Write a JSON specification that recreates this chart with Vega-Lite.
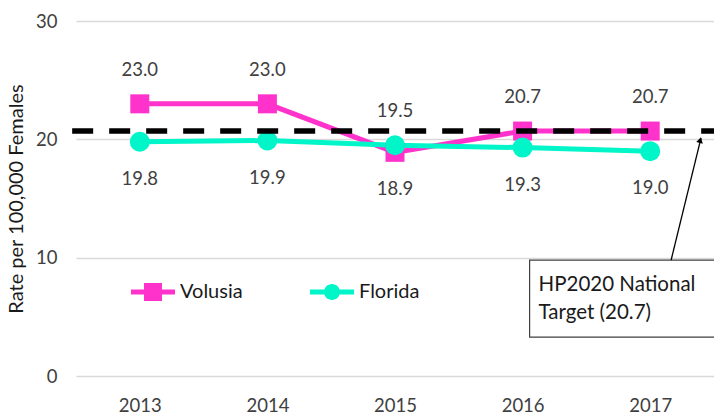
{
  "$schema": "https://vega.github.io/schema/vega-lite/v6.json",
  "autosize": {"type": "none"},
  "padding": {"left": 76, "top": 21, "right": 0, "bottom": 39},
  "width": 638,
  "height": 355,
  "background": "white",
  "config": {
    "view": {"stroke": null},
    "font": "Lato",
    "axis": {"labelFont": "Lato", "titleFont": "Lato"}
  },
  "data": {
    "values": [
      {"year": 2013, "series": "Volusia", "rate": 23.0},
      {"year": 2014, "series": "Volusia", "rate": 23.0},
      {"year": 2015, "series": "Volusia", "rate": 18.9},
      {"year": 2016, "series": "Volusia", "rate": 20.7},
      {"year": 2017, "series": "Volusia", "rate": 20.7},
      {"year": 2013, "series": "Florida", "rate": 19.8},
      {"year": 2014, "series": "Florida", "rate": 19.9},
      {"year": 2015, "series": "Florida", "rate": 19.5},
      {"year": 2016, "series": "Florida", "rate": 19.3},
      {"year": 2017, "series": "Florida", "rate": 19.0}
    ]
  },
  "encoding": {
    "x": {
      "field": "year", "type": "quantitative",
      "scale": {"domain": [2012.5, 2017.5], "nice": false, "zero": false},
      "axis": {"values": [2013, 2014, 2015, 2016, 2017], "format": "d", "title": null, "grid": false, "domain": false, "ticks": false, "labelFontSize": 18.5, "labelColor": "#404040", "labelPadding": 20, "labelFlush": false}
    },
    "y": {
      "field": "rate", "type": "quantitative",
      "scale": {"domain": [0, 30], "nice": false},
      "axis": {"values": [0, 10, 20, 30], "title": "Rate per 100,000 Females", "titleFontSize": 20, "titleFontWeight": "normal", "titleColor": "#1a1a1a", "titlePadding": 9, "grid": true, "gridColor": "#d9d9d9", "gridWidth": 1.5, "domain": false, "ticks": false, "labelFontSize": 18.5, "labelColor": "#404040", "labelPadding": 19}
    }
  },
  "layer": [
    {
      "mark": {"type": "line", "strokeWidth": 5},
      "encoding": {
        "color": {
          "field": "series", "type": "nominal",
          "scale": {"domain": ["Volusia", "Florida"], "range": ["#FF33CC", "#00F5C8"]},
          "legend": {
            "orient": "none", "legendX": 67, "legendY": 261, "direction": "horizontal",
            "title": null, "symbolSize": 400, "labelOffset": 17, "columnPadding": 67,
            "padding": 0, "labelFontSize": 20, "labelFont": "Lato", "labelColor": "#1a1a1a",
            "symbolStrokeWidth": 0, "symbolOpacity": 1,
            "encode": {
              "symbols": {
                "update": {
                  "shape": {"signal": "datum.value == 'Volusia' ? 'M-2.2,-0.25L2.2,-0.25L2.2,0.25L-2.2,0.25ZM-0.9,-0.9L0.9,-0.9L0.9,0.9L-0.9,0.9Z' : 'M-2.2,-0.25L2.2,-0.25L2.2,0.25L-2.2,0.25ZM-0.8,0A0.8,0.8 0 1,1 0.8,0A0.8,0.8 0 1,1 -0.8,0Z'"},
                  "fill": {"scale": "color", "field": "value"},
                  "strokeWidth": {"value": 0},
                  "opacity": {"value": 1}
                }
              }
            }
          }
        }
      }
    },
    {
      "transform": [{"filter": "datum.series == 'Volusia'"}],
      "mark": {"type": "point", "filled": true, "opacity": 1, "shape": "square", "size": 361},
      "encoding": {"color": {"field": "series", "type": "nominal"}}
    },
    {
      "transform": [{"filter": "datum.series == 'Florida'"}],
      "mark": {"type": "point", "filled": true, "opacity": 1, "shape": "circle", "size": 400},
      "encoding": {"color": {"field": "series", "type": "nominal"}}
    },
    {
      "transform": [{"filter": "(datum.series == 'Volusia' && datum.year != 2015) || (datum.series == 'Florida' && datum.year == 2015)"}],
      "mark": {"type": "text", "dy": -34, "fontSize": 18.5, "fontWeight": "normal", "fill": "#404040", "baseline": "middle"},
      "encoding": {"text": {"field": "rate", "type": "quantitative", "format": ".1f"}}
    },
    {
      "transform": [{"filter": "!((datum.series == 'Volusia' && datum.year != 2015) || (datum.series == 'Florida' && datum.year == 2015))"}],
      "mark": {"type": "text", "dy": 37, "fontSize": 18.5, "fontWeight": "normal", "fill": "#404040", "baseline": "middle"},
      "encoding": {"text": {"field": "rate", "type": "quantitative", "format": ".1f"}}
    },
    {
      "transform": [{"filter": "datum.series == 'Volusia' && datum.year == 2013"}],
      "mark": {"type": "rule", "strokeDash": [21, 16], "strokeWidth": 5.5, "color": "black"},
      "encoding": {"x": {"datum": 2012.47}, "x2": {"datum": 2017.6}, "y": {"datum": 20.7}}
    },
    {
      "transform": [{"filter": "datum.series == 'Volusia' && datum.year == 2013"}],
      "mark": {"type": "rect", "fill": "white", "stroke": "#404040", "strokeWidth": 1.2},
      "encoding": {"x": {"datum": 2016.055}, "x2": {"datum": 2017.75}, "y": {"datum": 9.8}, "y2": {"datum": 3.29}}
    },
    {
      "transform": [{"filter": "datum.series == 'Volusia' && datum.year == 2013"}],
      "mark": {"type": "text", "text": ["HP2020 National", "Target (20.7)"], "lineHeight": 28, "align": "left", "baseline": "middle", "fontSize": 20.5, "fontWeight": "normal", "fill": "#1a1a1a"},
      "encoding": {"x": {"datum": 2016.125}, "y": {"datum": 7.68}}
    },
    {
      "transform": [{"filter": "datum.series == 'Volusia' && datum.year == 2013"}],
      "mark": {"type": "rule", "strokeWidth": 1.3, "color": "black"},
      "encoding": {"x": {"datum": 2017.164}, "y": {"datum": 9.8}, "x2": {"datum": 2017.398}, "y2": {"datum": 20.1}}
    },
    {
      "transform": [{"filter": "datum.series == 'Volusia' && datum.year == 2013"}],
      "mark": {"type": "point", "shape": "triangle-up", "filled": true, "color": "black", "size": 45, "angle": 13.6, "opacity": 1},
      "encoding": {"x": {"datum": 2017.392}, "y": {"datum": 19.94}}
    }
  ]
}
